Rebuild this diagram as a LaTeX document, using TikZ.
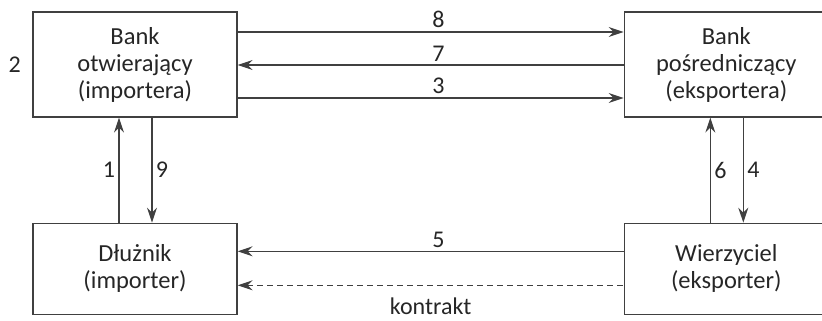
\documentclass[tikz,border=0pt]{standalone}
\usepackage{fontspec}
\setmainfont{Carlito}
\usetikzlibrary{arrows.meta,positioning}

\begin{document}
\begin{tikzpicture}[x=1pt, y=-1pt, node distance=105pt and 386pt,
    box/.style={rectangle, draw=black!75, line width=1.3pt, minimum width=204pt, align=center, text=black!85, font=\fontsize{24.5}{27}\selectfont},
    flow/.style={draw=black!75, line width=1.3pt, -{Stealth[length=15pt,width=10pt,inset=5pt]}},
    num/.style={text=black!85, font=\fontsize{24}{27}\selectfont}]
  \useasboundingbox (0,0) rectangle (822,321);
	\node [box, minimum height=105pt] (bankimp) at (135,64.5) {Bank\\otwierający\\(importera)};
	\node [box, minimum height=105pt, right=of bankimp] (bankeks) {Bank\\pośredniczący\\(eksportera)};
	\node [box, minimum height=91pt, below=of bankimp] (dluznik) {Dłużnik\\(importer)};
	\node [box, minimum height=91pt, below=of bankeks] (wierzyciel) {Wierzyciel\\(eksporter)};
	\node [num, left=8pt of bankimp] (two) {2};
	% banks
	\path [flow] ([yshift=32.5pt]bankimp.east) -- node [num, above, pos=0.52] (n8) {8} ([yshift=32.5pt]bankeks.west);
	\path [flow] ([yshift=-0.5pt]bankeks.west) -- node [num, above, pos=0.48] (n7) {7} ([yshift=-0.5pt]bankimp.east);
	\path [flow] ([yshift=-33.5pt]bankimp.east) -- node [num, above, pos=0.52] (n3) {3} ([yshift=-33.5pt]bankeks.west);
	% importer side
	\path [flow] ([xshift=-16pt]dluznik.north) -- node [num, left, pos=0.5] (n1) {1} ([xshift=-16pt]bankimp.south);
	\path [flow] ([xshift=17pt]bankimp.south) -- node [num, right, pos=0.5] (n9) {9} ([xshift=17pt]dluznik.north);
	% exporter side
	\path [flow] ([xshift=-16pt]wierzyciel.north) -- node [num, right, pos=0.5] (n6) {6} ([xshift=-16pt]bankeks.south);
	\path [flow] ([xshift=17pt]bankeks.south) -- node [num, right, pos=0.5] (n4) {4} ([xshift=17pt]wierzyciel.north);
	% bottom
	\path [flow] ([yshift=17.5pt]wierzyciel.west) -- node [num, above, pos=0.48] (n5) {5} ([yshift=17.5pt]dluznik.east);
	\path [flow, {Stealth[length=15pt,width=10pt,inset=5pt]}-, dash pattern=on 6pt off 4pt] ([yshift=-16.5pt]dluznik.east) -- node [num, below=9pt, pos=0.5] (contract) {kontrakt} ([yshift=-16.5pt]wierzyciel.west);
\end{tikzpicture}
\end{document}
